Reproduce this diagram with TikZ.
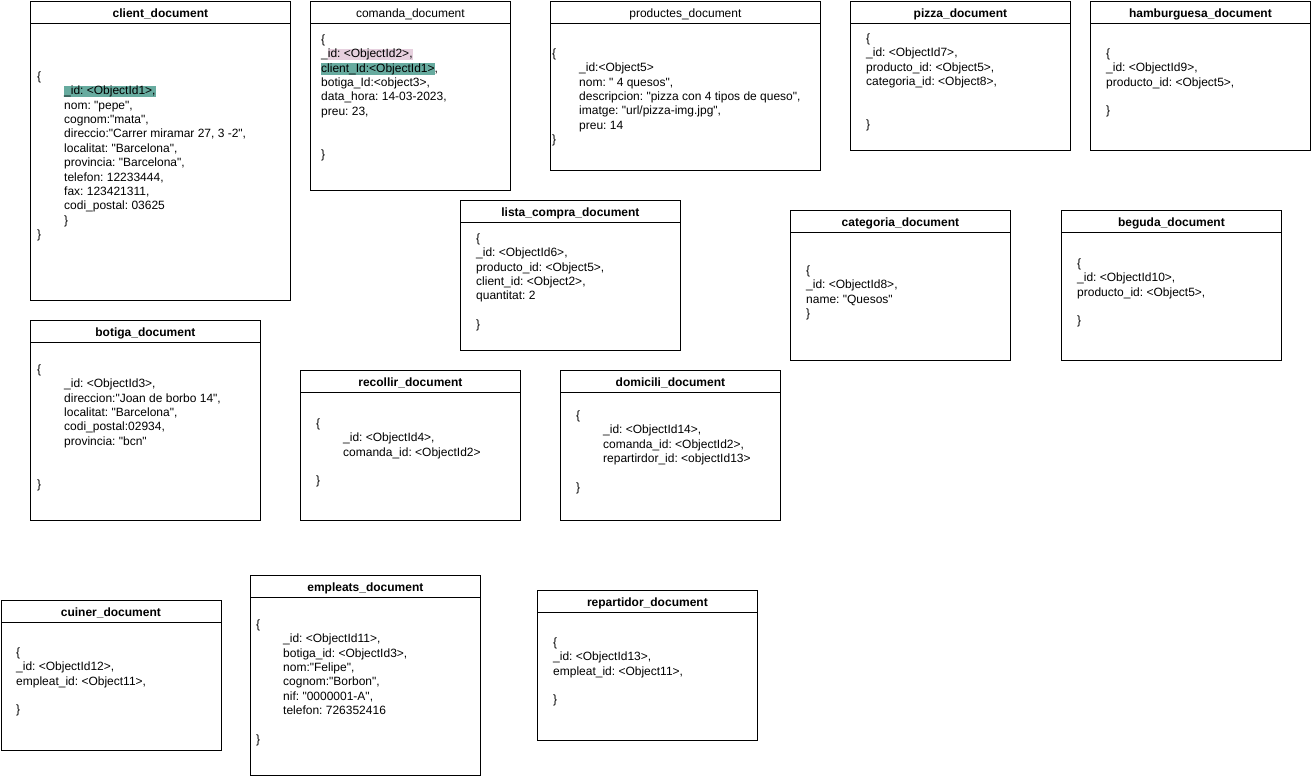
\documentclass[tikz,border=0pt]{standalone}
\usepackage{fontspec}
\setmainfont{Liberation Sans}[Ligatures=TeXOff]
\usetikzlibrary{positioning}

\definecolor{hlteal}{HTML}{67AB9F}
\definecolor{hlpink}{HTML}{E6D0DE}
\newcommand{\indnt}{\hspace*{27pt}}
\newcommand{\hl}[2]{{\setlength{\fboxsep}{0pt}\colorbox{#1}{\rule[-2.5pt]{0pt}{11pt}#2}}}
\frenchspacing

\begin{document}
\begin{tikzpicture}[x=1pt,y=-1pt,
    docbox/.style={draw,line width=0.8pt,anchor=north west,inner sep=0pt},
    doctitle/.style={docbox,minimum height=22pt,font=\fontsize{12}{14.4}\selectfont\bfseries,text height=11pt,text depth=0.5pt},
    plaintitle/.style={doctitle,font=\fontsize{12}{14.4}\selectfont},
    docbody/.style={anchor=north west,inner sep=0pt,align=left,font=\fontsize{12}{14.4}\selectfont\frenchspacing}]

  \useasboundingbox (0,0) rectangle (1311,776);

  % client
  \node[docbox,minimum width=260pt,minimum height=299pt] (client) at (30,1) {};
  \node[doctitle,minimum width=260pt] (client-t) at (30,1) {client\_document};
  \node[docbody] (client-b) at (37,70) {\strut\{\\
    \indnt\hl{hlteal}{\_id: <ObjectId1>,}\\
    \indnt nom: "pepe",\\
    \indnt cognom:"mata",\\
    \indnt direccio:"Carrer miramar 27, 3 -2",\\
    \indnt localitat: "Barcelona",\\
    \indnt provincia: "Barcelona",\\
    \indnt telefon: 12233444,\\
    \indnt fax: 123421311,\\
    \indnt codi\_postal: 03625\\
    \indnt \}\\
    \}};

  % comanda
  \node[docbox,minimum width=200pt,minimum height=189pt] (comanda) at (310,1) {};
  \node[plaintitle,minimum width=200pt] (comanda-t) at (310,1) {comanda\_document};
  \node[docbody] (comanda-b) at (321,33) {\strut\{\\
    \_\hl{hlpink}{id: <ObjectId2>,}\\
    \hl{hlteal}{client\_Id:<ObjectId1>},\\
    botiga\_Id:<object3>,\\
    data\_hora: 14-03-2023,\\
    preu: 23,\\
    \mbox{}\\
    \mbox{}\\
    \}};

  % productes
  \node[docbox,minimum width=270pt,minimum height=169pt] (productes) at (550,1) {};
  \node[plaintitle,minimum width=270pt] (productes-t) at (550,1) {productes\_document};
  \node[docbody] (productes-b) at (552,47) {\strut\{\\
    \indnt\_id:<Object5>\\
    \indnt nom: " 4 quesos",\\
    \indnt descripcion: "pizza con 4 tipos de queso",\\
    \indnt imatge: "url/pizza-img.jpg",\\
    \indnt preu: 14\\
    \}};

  % pizza
  \node[docbox,minimum width=220pt,minimum height=149pt] (pizza) at (850,1) {};
  \node[doctitle,minimum width=220pt] (pizza-t) at (850,1) {pizza\_document};
  \node[docbody] (pizza-b) at (866,32) {\strut\{\\
    \_id: <ObjectId7>,\\
    producto\_id: <Object5>,\\
    categoria\_id: <Object8>,\\
    \mbox{}\\
    \mbox{}\\
    \}};

  % hamburguesa
  \node[docbox,minimum width=220pt,minimum height=149pt] (hamburguesa) at (1090,1) {};
  \node[doctitle,minimum width=220pt] (hamburguesa-t) at (1090,1) {hamburguesa\_document};
  \node[docbody] (hamburguesa-b) at (1106,47) {\strut\{\\
    \_id: <ObjectId9>,\\
    producto\_id: <Object5>,\\
    \mbox{}\\
    \}};

  % lista compra
  \node[docbox,minimum width=220pt,minimum height=150pt] (lista) at (460,200) {};
  \node[doctitle,minimum width=220pt] (lista-t) at (460,200) {lista\_compra\_document};
  \node[docbody] (lista-b) at (476,232) {\strut\{\\
    \_id: <ObjectId6>,\\
    producto\_id: <Object5>,\\
    client\_id: <Object2>,\\
    quantitat: 2\\
    \mbox{}\\
    \}};

  % categoria
  \node[docbox,minimum width=220pt,minimum height=150pt] (categoria) at (790,210) {};
  \node[doctitle,minimum width=220pt] (categoria-t) at (790,210) {categoria\_document};
  \node[docbody] (categoria-b) at (806,264) {\strut\{\\
    \_id: <ObjectId8>,\\
    name: "Quesos"\\
    \}};

  % beguda
  \node[docbox,minimum width=220pt,minimum height=150pt] (beguda) at (1061,210) {};
  \node[doctitle,minimum width=220pt] (beguda-t) at (1061,210) {beguda\_document};
  \node[docbody] (beguda-b) at (1077,257) {\strut\{\\
    \_id: <ObjectId10>,\\
    producto\_id: <Object5>,\\
    \mbox{}\\
    \}};

  % botiga
  \node[docbox,minimum width=230pt,minimum height=200pt] (botiga) at (30,320) {};
  \node[doctitle,minimum width=230pt] (botiga-t) at (30,320) {botiga\_document};
  \node[docbody] (botiga-b) at (37,363) {\strut\{\\
    \indnt\_id: <ObjectId3>,\\
    \indnt direccion:"Joan de borbo 14",\\
    \indnt localitat: "Barcelona",\\
    \indnt codi\_postal:02934,\\
    \indnt provincia: "bcn"\\
    \mbox{}\\
    \mbox{}\\
    \}};

  % recollir
  \node[docbox,minimum width=220pt,minimum height=150pt] (recollir) at (300,370) {};
  \node[doctitle,minimum width=220pt] (recollir-t) at (300,370) {recollir\_document};
  \node[docbody] (recollir-b) at (316,417) {\strut\{\\
    \indnt\_id: <ObjectId4>,\\
    \indnt comanda\_id: <ObjectId2>\\
    \mbox{}\\
    \}};

  % domicili
  \node[docbox,minimum width=220pt,minimum height=150pt] (domicili) at (560,370) {};
  \node[doctitle,minimum width=220pt] (domicili-t) at (560,370) {domicili\_document};
  \node[docbody] (domicili-b) at (576,409) {\strut\{\\
    \indnt\_id: <ObjectId14>,\\
    \indnt comanda\_id: <ObjectId2>,\\
    \indnt repartirdor\_id: <objectId13>\\
    \mbox{}\\
    \}};

  % cuiner
  \node[docbox,minimum width=220pt,minimum height=150pt] (cuiner) at (0.5,600) {};
  \node[doctitle,minimum width=220pt] (cuiner-t) at (0.5,600) {cuiner\_document};
  \node[docbody] (cuiner-b) at (16,646) {\strut\{\\
    \_id: <ObjectId12>,\\
    empleat\_id: <Object11>,\\
    \mbox{}\\
    \}};

  % empleats
  \node[docbox,minimum width=230pt,minimum height=200pt] (empleats) at (250,575) {};
  \node[doctitle,minimum width=230pt] (empleats-t) at (250,575) {empleats\_document};
  \node[docbody] (empleats-b) at (256,618) {\strut\{\\
    \indnt\_id: <ObjectId11>,\\
    \indnt botiga\_id: <ObjectId3>,\\
    \indnt nom:"Felipe",\\
    \indnt cognom:"Borbon",\\
    \indnt nif: "0000001-A",\\
    \indnt telefon: 726352416\\
    \mbox{}\\
    \}};

  % repartidor
  \node[docbox,minimum width=220pt,minimum height=150pt] (repartidor) at (537,590) {};
  \node[doctitle,minimum width=220pt] (repartidor-t) at (537,590) {repartidor\_document};
  \node[docbody] (repartidor-b) at (553,636) {\strut\{\\
    \_id: <ObjectId13>,\\
    empleat\_id: <Object11>,\\
    \mbox{}\\
    \}};

\end{tikzpicture}
\end{document}
